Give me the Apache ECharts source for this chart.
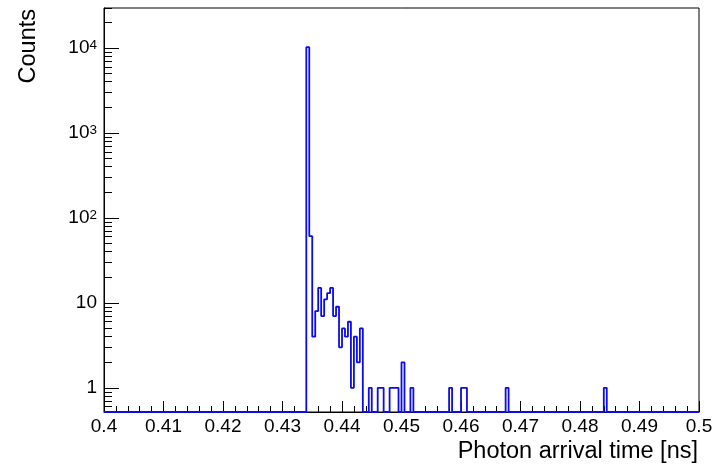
<!DOCTYPE html>
<html>
<head>
<meta charset="utf-8">
<script src="https://cdn.jsdelivr.net/npm/echarts@6/dist/echarts.min.js"></script>
<style>
html,body{margin:0;padding:0;background:#ffffff;}
#chart{width:717px;height:471px;}
</style>
</head>
<body>
<div id="chart"></div>
<script>
// ---- data ----
const xMin = 0.4;
const xMax = 0.5;
const binWidth = 0.0005;
// lower edges of the non-empty bins
const binLowEdges = [
  0.4340, 0.4345, 0.4350, 0.4355, 0.4360, 0.4365, 0.4370, 0.4375, 0.4380, 0.4385,
  0.4390, 0.4395, 0.4400, 0.4405, 0.4410, 0.4415, 0.4420, 0.4425, 0.4430,
  0.4445, 0.4460, 0.4465, 0.4480, 0.4485, 0.4490, 0.4500, 0.4515,
  0.4580, 0.4600, 0.4605, 0.4675, 0.4840
];
const binCounts = [
  10200, 61, 4, 8, 15, 7, 11, 13, 15, 7,
  9, 3, 5, 4, 6, 1, 4, 2, 5,
  1, 1, 1, 1, 1, 1, 2, 1,
  1, 1, 1, 1, 1
];
const yMin = 0.52;
const yMax = 29500;
const xTickLabels = ['0.4','0.41','0.42','0.43','0.44','0.45','0.46','0.47','0.48','0.49','0.5'];
const yTickLabels = ['1', '10', '10{sup|2}', '10{sup|3}', '10{sup|4}'];
const minorMultipliers = [2, 3, 4, 5, 6, 7, 8, 9];
const xTitle = 'Photon arrival time [ns]';
const yTitle = 'Counts';

// ---- build ----
const FONT = "'Liberation Sans', Arial, Helvetica, sans-serif";
const nBins = Math.round((xMax - xMin) / binWidth);
const counts = new Array(nBins).fill(0);
binLowEdges.forEach((e, i) => { counts[Math.round((e - xMin) / binWidth)] = binCounts[i]; });
const stepData = [];
for (let k = 0; k < nBins; k++) {
  const lo = xMin + k * binWidth, hi = xMin + (k + 1) * binWidth;
  const v = counts[k] > 0 ? counts[k] : yMin;   // empty bins drawn on the lower frame, as ROOT does
  stepData.push([lo, v]); stepData.push([hi, v]);
}

const yAxes = [{
  type: 'log', logBase: 10, min: yMin, max: yMax, position: 'left',
  axisLine: {show: true, onZero: false, lineStyle: {color: '#000', width: 1}},
  axisTick: {show: true, inside: true, length: 15, lineStyle: {color: '#000', width: 1}},
  minorTick: {show: false},
  splitLine: {show: false}, minorSplitLine: {show: false},
  axisLabel: {
    show: true, showMinLabel: false, showMaxLabel: false,
    fontSize: 19, color: '#000', fontFamily: FONT, margin: 7,
    formatter: v => {
      const e = Math.log10(v), n = Math.round(e);
      if (Math.abs(e - n) > 1e-6 || n < 0 || n >= yTickLabels.length) return '';
      const s = yTickLabels[n];
      return s.indexOf('{sup|') >= 0 ? '{b|' + s.replace('{sup|', '}{sup|') : s;
    },
    rich: {
      b: {fontSize: 19, fontFamily: FONT, color: '#000', lineHeight: 19, padding: [4, 0, 0, 0], verticalAlign: 'bottom'},
      sup: {fontSize: 13.5, fontFamily: FONT, color: '#000', lineHeight: 13, verticalAlign: 'top'}
    }
  }
}];
// minor log ticks (2..9 x 10^n): a log axis scaled by 1/m puts its decade ticks exactly at m*10^n
minorMultipliers.forEach(m => {
  yAxes.push({
    type: 'log', logBase: 10, min: yMin / m, max: yMax / m, position: 'left',
    axisLine: {show: false, onZero: false},
    axisTick: {show: true, inside: true, length: 8, lineStyle: {color: '#000', width: 1}},
    minorTick: {show: false},
    axisLabel: {show: false},
    splitLine: {show: false}, minorSplitLine: {show: false}
  });
});

const chart = echarts.init(document.getElementById('chart'), null, {renderer: 'canvas'});
chart.setOption({
  animation: false,
  backgroundColor: '#ffffff',
  grid: {left: 104, right: 18, top: 8, bottom: 59, show: true, borderColor: '#000', borderWidth: 1},
  xAxis: [{
    type: 'value', min: xMin, max: xMax, interval: 0.01,
    axisLine: {show: true, onZero: false, lineStyle: {color: '#000', width: 1}},
    axisTick: {show: true, inside: true, length: 11, lineStyle: {color: '#000', width: 1}},
    minorTick: {show: true, splitNumber: 5, length: 6, lineStyle: {color: '#000', width: 1}},
    splitLine: {show: false}, minorSplitLine: {show: false},
    axisLabel: {
      fontSize: 19, color: '#000', fontFamily: FONT, margin: 5,
      formatter: v => xTickLabels[Math.round((v - xMin) / 0.01)]
    }
  }],
  yAxis: yAxes,
  graphic: [{
    type: 'text', right: 19, top: 440,
    style: {text: xTitle, font: '23.5px ' + FONT, fill: '#000'}
  }, {
    type: 'text', x: 28.5, y: 9, rotation: Math.PI / 2,
    style: {text: yTitle, font: '23.5px ' + FONT, fill: '#000', align: 'right', verticalAlign: 'middle'}
  }],
  series: [{
    type: 'line', xAxisIndex: 0, yAxisIndex: 0,
    data: stepData, showSymbol: false, symbol: 'none', clip: false,
    lineStyle: {color: '#0c0ce6', width: 1.8}, z: 5
  }]
});
</script>
</body>
</html>
